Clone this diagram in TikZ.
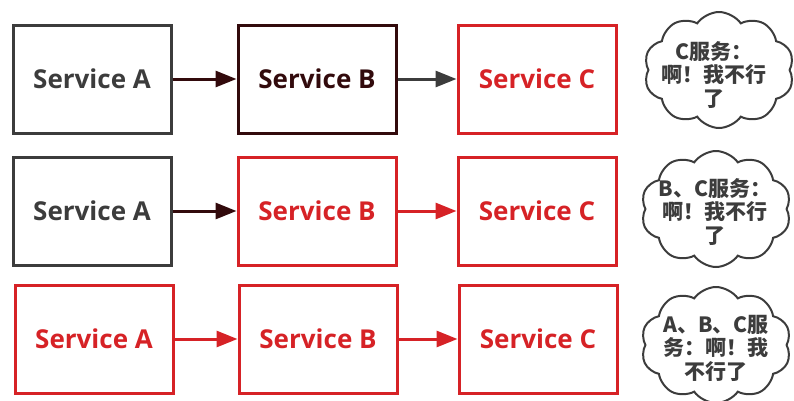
\documentclass[tikz,border=0pt]{standalone}
\usepackage{fontspec}
\setmainfont{Open Sans}
\newfontfamily\cjk{Noto Sans CJK SC}
\usetikzlibrary{arrows.meta}
\usetikzlibrary{shapes.symbols}
\usetikzlibrary{positioning}

\definecolor{srvgray}{RGB}{60,60,60}
\definecolor{srvdark}{RGB}{50,10,12}
\definecolor{srvred}{RGB}{214,34,38}

\tikzset{
  svc/.style={draw, line width=3pt, minimum width=158pt, minimum height=108pt,
    font=\fontsize{26}{30}\selectfont\bfseries},
  link/.style={line width=3pt, -{Triangle[length=21pt,width=16pt]}},
  puff/.style={cloud, draw=srvgray, line width=2pt, cloud puffs=10, cloud puff arc=110,
    aspect=1.3, minimum width=150pt, minimum height=116pt},
  say/.style={align=center, text=srvgray, font=\cjk\fontsize{21}{23.5}\selectfont\bfseries}
}

\begin{document}
\begin{tikzpicture}[x=1pt,y=-1pt]
    \useasboundingbox (0,0) rectangle (794,400);

    % C fails
    \node[svc, srvgray] (a1) at (92,79) {Service A};
    \node[svc, srvdark, text=srvdark] (b1) at (317,79) {Service B};
    \node[svc, srvred] (c1) at (537,79) {Service C};
    \draw[link, srvdark] (a1) -- (b1);
    \draw[link, srvgray] (b1) -- (c1);
    \node[puff] (cloud1) at (719,70) {};
    \node[say] (say1) at (714,75) {C服务：\\啊！我不行\\了};

    % B and C fail
    \node[svc, srvgray] (a2) at (92,211) {Service A};
    \node[svc, srvred] (b2) at (317,211) {Service B};
    \node[svc, srvred] (c2) at (537,211) {Service C};
    \draw[link, srvdark] (a2) -- (b2);
    \draw[link, srvred] (b2) -- (c2);
    \node[puff] (cloud2) at (716,209) {};
    \node[say] (say2) at (715,212) {B、C服务：\\啊！我不行\\了};

    % all fail
    \node[svc, srvred] (a3) at (94,339) {Service A};
    \node[svc, srvred] (b3) at (318,339) {Service B};
    \node[svc, srvred] (c3) at (538,339) {Service C};
    \draw[link, srvred] (a3) -- (b3);
    \draw[link, srvred] (b3) -- (c3);
    \node[puff] (cloud3) at (716,345) {};
    \node[say] (say3) at (716,348) {A、B、C服\\务：啊！我\\不行了};
\end{tikzpicture}
\end{document}
